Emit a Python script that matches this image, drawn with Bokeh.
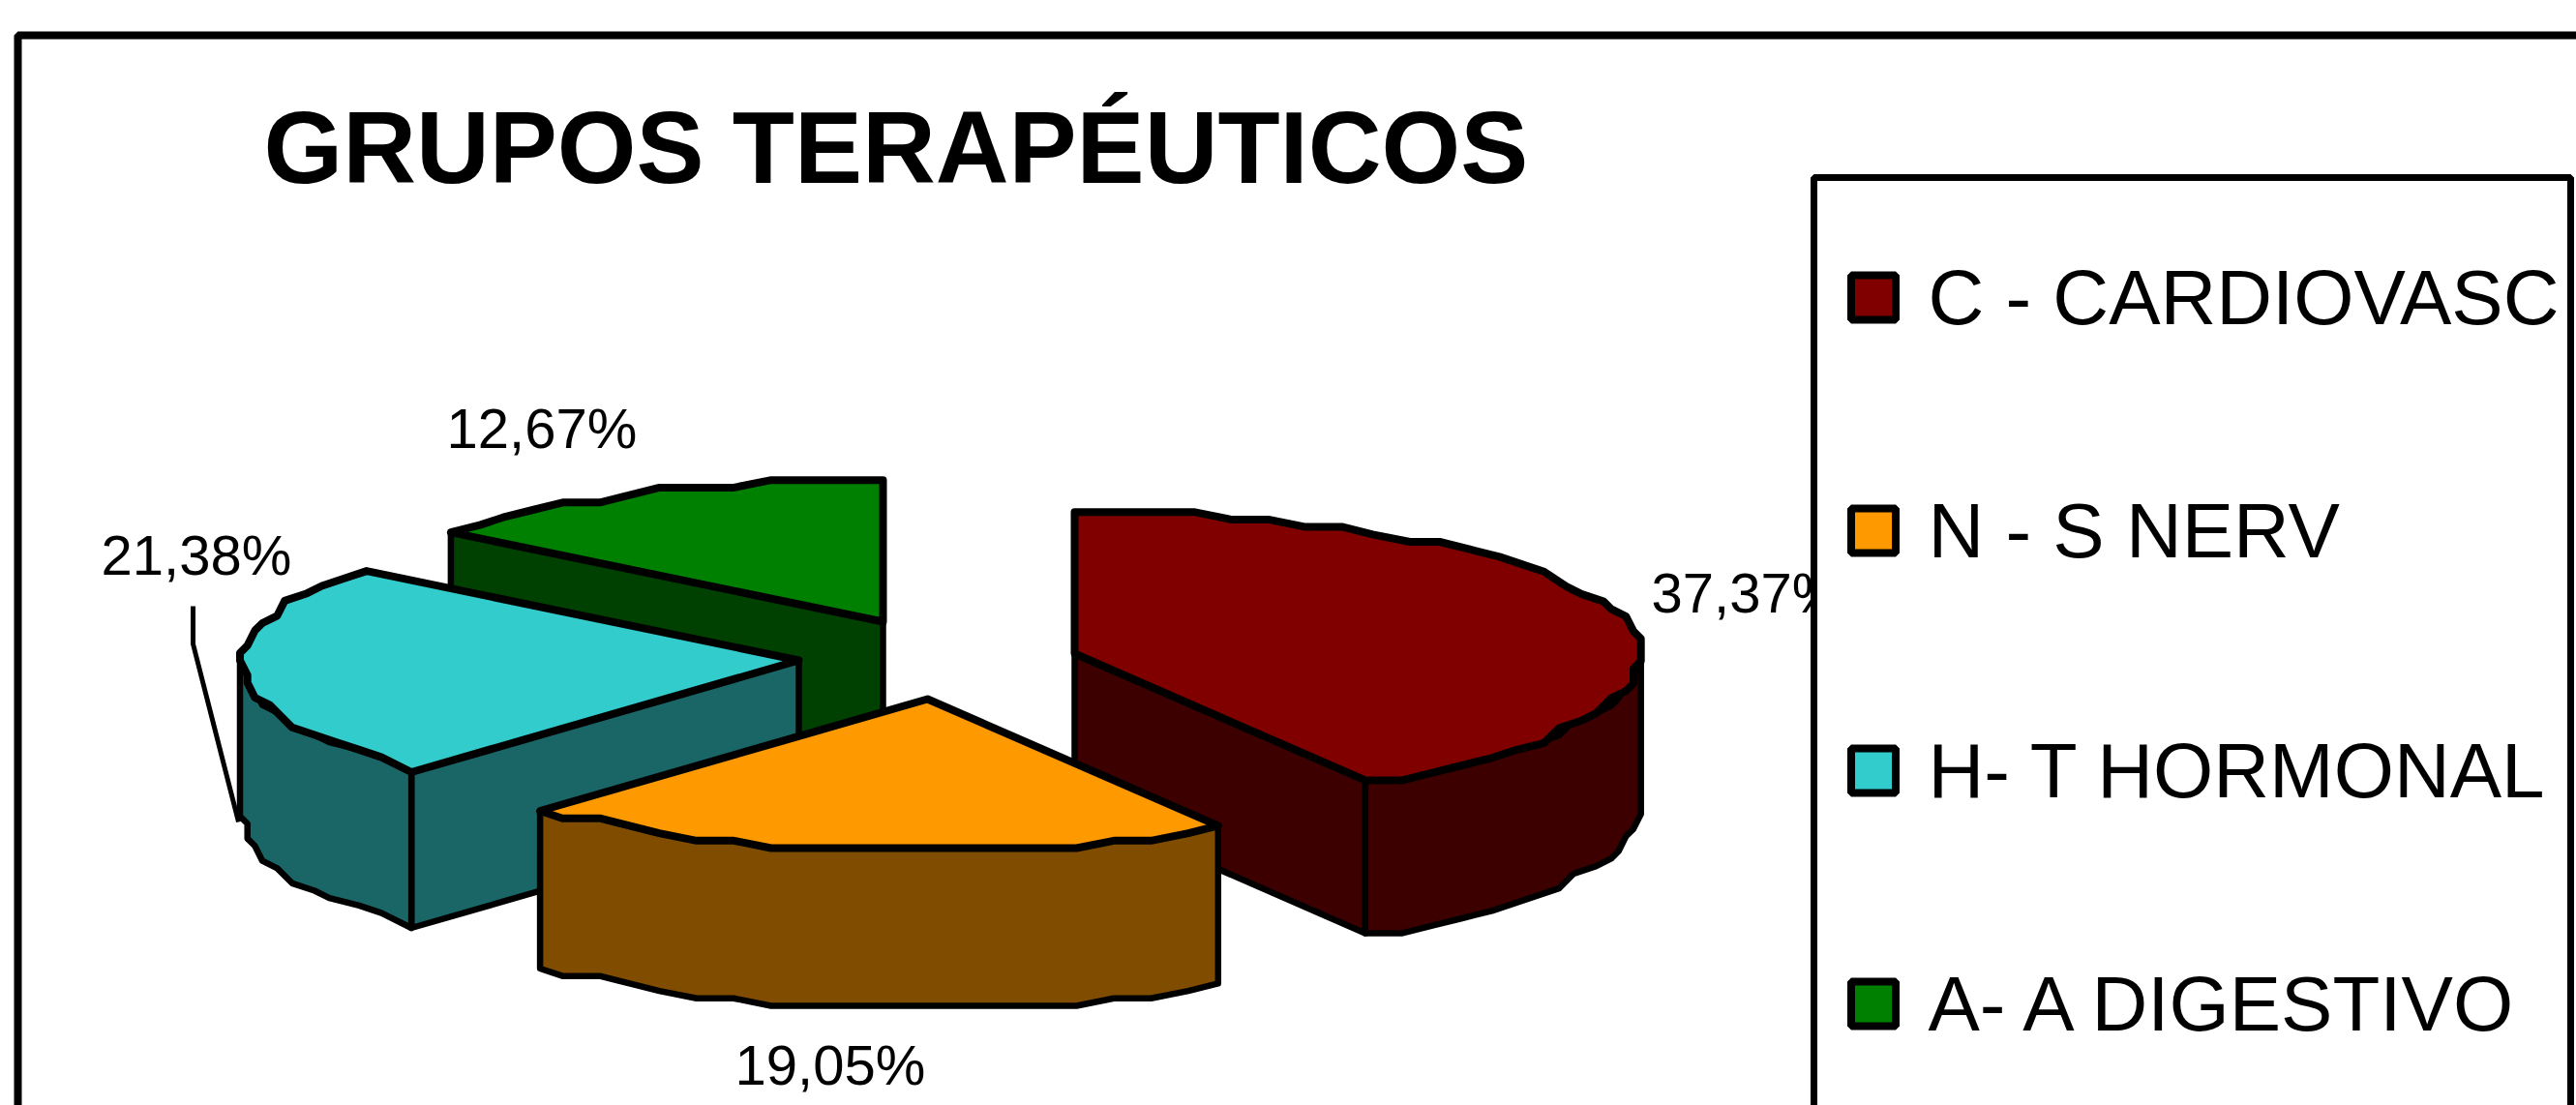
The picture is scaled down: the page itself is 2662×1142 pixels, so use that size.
import numpy as np
from bokeh.embed import file_html
from bokeh.models import Range1d
from bokeh.plotting import figure
from bokeh.resources import INLINE
from bokeh.core.properties import value

# ---- data ----
title_text = "GRUPOS TERAPÉUTICOS"
categories = ["C - CARDIOVASC", "N - S NERV", "H- T HORMONAL", "A- A DIGESTIVO"]
shares = [37.37, 19.05, 21.38, 12.67]
share_labels = ["37,37%", "19,05%", "21,38%", "12,67%"]
top_colors = ["#800000", "#FF9900", "#33CCCC", "#008000"]
side_colors = ["#3C0000", "#7F4C00", "#1A6666", "#004000"]

# ---- layout (page pixels) ----
W, H = 2662, 1142
FONT = "Liberation Sans"
apex = [(1110, 675), (958, 722), (825, 682), (912, 642)]
label_pos = [(1706, 633), (759, 1121), (104, 594), (461, 463)]
A_RIGHT, A_LEFT, B_BACK, B_FRONT = 585, 575, 147, 157
depths = [158, 163, 161, 161]
GRID = 7.7
STEP = 4.0
BASELINE_FIX = 0.37
LABEL_SIZE, TITLE_SIZE, LEGEND_SIZE = 58, 105, 80
legend_y = [307, 548, 796, 1037]
# which radial edge of each slice faces the viewer: 1 = its end, 0 = its start, None = neither
radial_wall = [1, None, 0, 0]

p = figure(width=W, height=H, output_backend="svg", toolbar_location=None,
           x_range=Range1d(0, W), y_range=Range1d(H, 0),
           min_border=0, outline_line_color=None, background_fill_color="white")
p.axis.visible = False
p.grid.visible = False

# outer frame
p.quad(left=[18], right=[3000], top=[36], bottom=[3000], fill_color=None,
       line_color="black", line_width=8)


def arc_points(start, end, ax, ay):
    n = max(int(round((end - start) / STEP)), 1)
    th = np.radians(np.linspace(start, end, n + 1))
    s, c = np.sin(th), np.cos(th)
    dx = np.where(s >= 0, A_RIGHT, A_LEFT) * s
    dy = -np.where(c >= 0, B_BACK, B_FRONT) * c
    # the original outline sits on a coarse integer grid, hence its stair steps
    dx = np.round(dx / GRID) * GRID
    dy = np.round(dy / GRID) * GRID
    return ax + dx, ay + dy


total = sum(shares)
angles = np.cumsum([0.0] + [v / total * 360.0 for v in shares])


def draw_patch(xs, ys, color, width=8):
    p.patch(list(xs), list(ys), fill_color=color, line_color="black",
            line_width=width, line_join="round")


def draw_slice(i):
    start, end = angles[i], angles[i + 1]
    ax, ay = apex[i]
    d = depths[i]
    xs, ys = arc_points(start, end, ax, ay)
    # radial wall that faces the viewer
    if radial_wall[i] is not None:
        k = -1 if radial_wall[i] == 1 else 0
        wx = [ax, xs[k], xs[k], ax]
        wy = [ay, ys[k], ys[k] + d, ay + d]
        draw_patch(wx, wy, side_colors[i], 6.5)
    # curved outer wall: only the front half of the rim shows
    lo, hi = max(start, 90.0), min(end, 270.0)
    if hi > lo:
        cx, cy = arc_points(lo, hi, ax, ay)
        wx = np.concatenate([cx, cx[::-1]])
        wy = np.concatenate([cy, (cy + d)[::-1]])
        draw_patch(wx, wy, side_colors[i], 6.5)
    # top surface
    draw_patch(np.concatenate([[ax], xs]), np.concatenate([[ay], ys]), top_colors[i])


# back to front
for i in (3, 0, 2, 1):
    draw_slice(i)

# leader line of the hormonal slice
p.line([199, 199, 246], [626, 665, 849], line_color="black", line_width=5)

# percentage labels
p.text(x=[q[0] for q in label_pos], y=[q[1] - BASELINE_FIX * LABEL_SIZE for q in label_pos],
       text=share_labels, text_font=value(FONT), text_font_size=f"{LABEL_SIZE}px",
       text_color="black", text_align="left", text_baseline="alphabetic")

# title
p.text(x=[272], y=[191 - BASELINE_FIX * TITLE_SIZE], text=[title_text], text_font=value(FONT),
       text_font_size=f"{TITLE_SIZE}px", text_font_style="bold", text_color="black",
       text_align="left", text_baseline="alphabetic")

# legend
p.quad(left=[1874], right=[2656], top=[183], bottom=[3000], fill_color="white",
       line_color="black", line_width=7)
for y, col, cat in zip(legend_y, top_colors, categories):
    p.quad(left=[1912.5], right=[1958.5], top=[y - 23], bottom=[y + 23], fill_color=col,
           line_color="black", line_width=8)
    p.text(x=[1992], y=[y + 30 - BASELINE_FIX * LEGEND_SIZE], text=[cat], text_font=value(FONT),
           text_font_size=f"{LEGEND_SIZE}px", text_color="black", text_align="left",
           text_baseline="alphabetic")

open("out.html", "w").write(file_html(p, INLINE))
